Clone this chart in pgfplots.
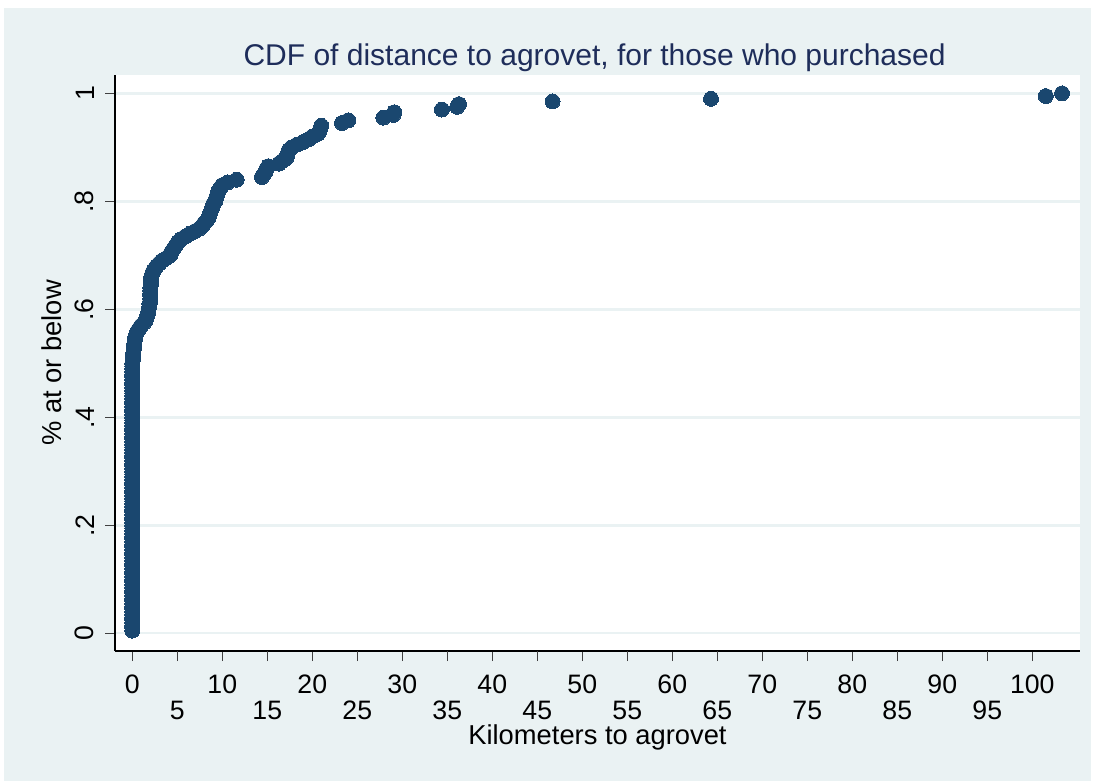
\documentclass[border=0pt]{standalone}
\usepackage{pgfplots}
\pgfplotsset{compat=1.18}
\usepackage{fontspec}
\setmainfont{Liberation Sans}
\definecolor{stbg}{RGB}{234,242,243}
\definecolor{stnavy}{RGB}{26,71,111}
\definecolor{sttitle}{RGB}{30,45,90}
\newcommand\tickfont{\fontsize{20pt}{20pt}\selectfont}
\newcommand\labfont{\fontsize{20.5pt}{20.5pt}\selectfont}
\newcommand\titlefont{\fontsize{22.5pt}{22.5pt}\selectfont}

\begin{document}
\begin{tikzpicture}
% page and graph region
\fill[white] (0,0) rectangle (823.5pt,585.75pt);
\fill[stbg] (3pt,0) rectangle (818.25pt,579.75pt);
\begin{axis}[
  at={(86.25pt,97.5pt)}, anchor=south west,
  scale only axis, width=723.75pt, height=432pt,
  xmin=-1.92, xmax=105.3, ymin=-0.0328, ymax=1.034,
  /pgf/number format/assume math mode=true,
  axis background/.style={fill=white},
  axis x line=bottom, axis y line=left,
  axis line style={-, black, line width=1pt},
  x axis line style={-}, y axis line style={-},
  tick align=outside, major tick length=7.5pt,
  tick style={black!75, line width=0.9pt},
  xtick={0,10,...,100},
  extra x ticks={5,15,...,95},
  extra x tick style={xticklabel style={yshift=-19.5pt}},
  xticklabel style={font=\tickfont, inner sep=0pt, anchor=north, yshift=-10.5pt},
  ytick={0,0.2,0.4,0.6,0.8,1},
  yticklabels={0,.2,.4,.6,.8,1},
  yticklabel shift=8pt,
  yticklabel style={font=\tickfont, rotate=90, anchor=south, inner sep=0pt},
  ymajorgrids, grid style={stbg, line width=1.8pt},
  title={CDF of distance to agrovet, for those who purchased},
  title style={font=\titlefont, color=sttitle, inner sep=0pt, at={(axis description cs:0.497,1)}, anchor=base, yshift=1pt},
  xlabel={Kilometers to agrovet},
  xlabel style={font=\labfont, inner sep=0pt, at={(axis description cs:0.5,-0.163)}, anchor=base},
  ylabel={\% at or below},
  ylabel style={font=\labfont, inner sep=0pt, at={(axis description cs:-0.0653,0.5)}, anchor=center},
]
\addplot[only marks, mark=*, mark size=5.6pt,
  mark options={fill=stnavy, draw=stnavy, line width=0pt}] coordinates {
  (0,0.005) (0,0.010) (0,0.015) (0,0.020) (0,0.025) (0,0.030) (0,0.035) (0,0.040) (0,0.045) (0,0.050)
  (0,0.055) (0,0.060) (0,0.065) (0,0.070) (0,0.075) (0,0.080) (0,0.085) (0,0.090) (0,0.095) (0,0.100)
  (0,0.105) (0,0.110) (0,0.115) (0,0.120) (0,0.125) (0,0.130) (0,0.135) (0,0.140) (0,0.145) (0,0.150)
  (0,0.155) (0,0.160) (0,0.165) (0,0.170) (0,0.175) (0,0.180) (0,0.185) (0,0.190) (0,0.195) (0,0.200)
  (0,0.205) (0,0.210) (0,0.215) (0,0.220) (0,0.225) (0,0.230) (0,0.235) (0,0.240) (0,0.245) (0,0.250)
  (0,0.255) (0,0.260) (0,0.265) (0,0.270) (0,0.275) (0,0.280) (0,0.285) (0,0.290) (0,0.295) (0,0.300)
  (0,0.305) (0,0.310) (0,0.315) (0,0.320) (0,0.325) (0,0.330) (0,0.335) (0,0.340) (0,0.345) (0,0.350)
  (0,0.355) (0,0.360) (0,0.365) (0,0.370) (0,0.375) (0,0.380) (0,0.385) (0,0.390) (0,0.395) (0,0.400)
  (0,0.405) (0,0.410) (0,0.415) (0,0.420) (0,0.425) (0,0.430) (0,0.435) (0,0.440) (0,0.445) (0,0.450)
  (0,0.455) (0,0.460) (0,0.465) (0,0.470) (0,0.475) (0,0.480) (0,0.485) (0,0.490) (0,0.495) (0,0.500)
  (0.05,0.505) (0.08,0.510) (0.1,0.515) (0.12,0.520) (0.15,0.525) (0.2,0.530) (0.2,0.535) (0.25,0.540) (0.3,0.545) (0.35,0.550)
  (0.45,0.555) (0.6,0.560) (0.8,0.565) (1.0,0.570) (1.3,0.575) (1.5,0.580) (1.6,0.585) (1.7,0.590) (1.8,0.595) (1.8,0.600)
  (1.9,0.605) (1.9,0.610) (2.0,0.615) (2.0,0.620) (2.0,0.625) (2.0,0.630) (2.0,0.635) (2.0,0.640) (2.05,0.645) (2.1,0.650)
  (2.1,0.655) (2.1,0.660) (2.2,0.665) (2.3,0.670) (2.5,0.675) (2.7,0.680) (3.0,0.685) (3.3,0.690) (3.8,0.695) (4.2,0.700)
  (4.3,0.705) (4.5,0.710) (4.7,0.715) (4.9,0.720) (5.1,0.725) (5.4,0.730) (5.9,0.735) (6.4,0.740) (7.0,0.745) (7.5,0.750)
  (7.8,0.755) (8.0,0.760) (8.3,0.765) (8.5,0.770) (8.6,0.775) (8.7,0.780) (8.8,0.785) (8.9,0.790) (9.0,0.795) (9.2,0.800)
  (9.3,0.805) (9.4,0.810) (9.5,0.815) (9.6,0.820) (9.8,0.825) (10.0,0.830) (10.6,0.835) (11.6,0.840) (14.4,0.845) (14.6,0.850)
  (14.8,0.855) (14.9,0.860) (15.1,0.865) (16.3,0.870) (16.7,0.875) (17.1,0.880) (17.2,0.885) (17.3,0.890) (17.4,0.895) (17.7,0.900)
  (18.3,0.905) (19.0,0.910) (19.6,0.915) (20.0,0.920) (20.6,0.925) (20.8,0.930) (20.9,0.935) (21.0,0.940) (23.3,0.945) (24.0,0.950)
  (27.9,0.955) (29.0,0.960) (29.1,0.965) (34.4,0.970) (36.1,0.975) (36.3,0.980) (46.7,0.985) (64.3,0.990) (101.5,0.995) (103.3,1.000)
};
\end{axis}
\end{tikzpicture}
\end{document}
